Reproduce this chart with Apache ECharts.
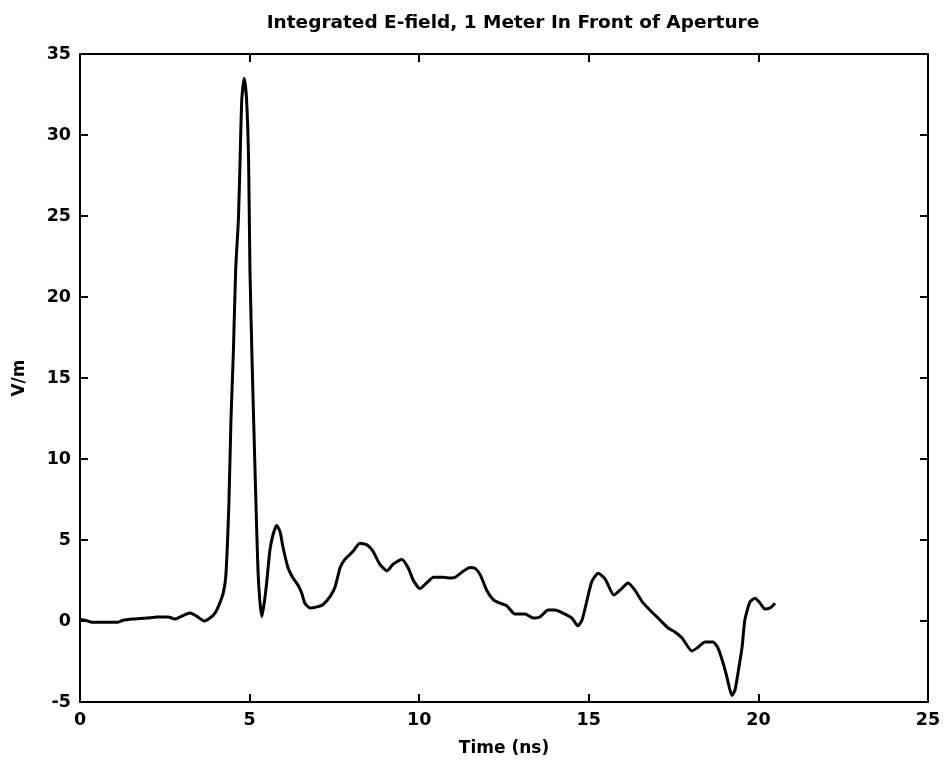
<!DOCTYPE html>
<html>
<head>
<meta charset="utf-8">
<script src="https://cdn.jsdelivr.net/npm/echarts@6/dist/echarts.min.js"></script>
<style>html,body{margin:0;padding:0;background:#fff}#c{width:946px;height:765px}</style>
</head>
<body>
<div id="c"></div>
<script>
const titleText = 'Integrated E-field, 1 Meter In Front of Aperture';
const xName = 'Time (ns)';
const yName = 'V/m';
const xTicks = [0, 5, 10, 15, 20, 25];
const yTicks = [-5, 0, 5, 10, 15, 20, 25, 30, 35];
const timeNs = [0,0.15,0.34,0.74,1.12,1.27,1.57,1.97,2.27,2.6,2.8,2.95,3.24,3.44,3.66,3.83,3.98,4.1,4.22,4.3,4.39,4.45,4.52,4.59,4.67,4.72,4.77,4.84,4.91,4.97,5.01,5.08,5.16,5.21,5.25,5.3,5.36,5.43,5.5,5.6,5.7,5.8,5.9,5.98,6.13,6.28,6.43,6.54,6.63,6.78,6.99,7.16,7.37,7.52,7.67,7.81,8.05,8.25,8.46,8.64,8.84,9.05,9.23,9.49,9.67,9.83,10.02,10.22,10.42,10.72,10.91,11.06,11.25,11.5,11.65,11.8,11.99,12.19,12.38,12.59,12.82,13.12,13.36,13.56,13.8,14.0,14.24,14.5,14.68,14.8,14.95,15.09,15.28,15.48,15.74,15.92,16.16,16.36,16.57,16.8,17.1,17.34,17.54,17.75,18.04,18.19,18.43,18.66,18.81,18.96,19.07,19.22,19.31,19.4,19.52,19.6,19.75,19.9,20.05,20.19,20.34,20.49];
const fieldVm = [0.1,0.05,-0.07,-0.08,-0.07,0.05,0.12,0.18,0.25,0.25,0.12,0.25,0.49,0.3,0.0,0.18,0.49,1.0,1.7,2.8,7.3,12.4,16.5,21.7,24.8,28.5,32.2,33.5,32.2,28.5,21.7,15.5,9.3,5.6,3.0,1.3,0.27,1.1,2.3,4.4,5.4,5.9,5.5,4.6,3.3,2.65,2.2,1.7,1.1,0.8,0.87,1.0,1.5,2.1,3.3,3.8,4.3,4.8,4.7,4.3,3.5,3.1,3.5,3.8,3.3,2.5,2.0,2.35,2.7,2.7,2.65,2.7,3.0,3.3,3.25,2.85,1.9,1.3,1.1,0.93,0.43,0.43,0.18,0.25,0.68,0.68,0.49,0.18,-0.3,0.06,1.3,2.45,2.95,2.6,1.6,1.9,2.35,1.9,1.2,0.68,0.06,-0.43,-0.68,-1.05,-1.85,-1.67,-1.3,-1.3,-1.67,-2.6,-3.45,-4.6,-4.26,-3.2,-1.6,0.06,1.17,1.4,1.1,0.74,0.8,1.1];

const FONT = 'DejaVu Sans';
const chart = echarts.init(document.getElementById('c'), null, {renderer: 'canvas'});
const lineStyle = {color: '#000', width: 2};
const tickIn = {show: true, inside: true, length: 8, lineStyle: {color: '#000', width: 2}};
const labelStyle = {color: '#000', fontFamily: FONT, fontWeight: 'bold', fontSize: 17.5};
function baseX(pos, showLabels) {
  return {
    type: 'value', position: pos, min: xTicks[0], max: xTicks[xTicks.length - 1], interval: 5,
    axisLine: {show: true, onZero: false, lineStyle},
    axisTick: tickIn, splitLine: {show: false},
    axisLabel: showLabels ? Object.assign({margin: 9}, labelStyle) : {show: false}
  };
}
function baseY(pos, showLabels) {
  return {
    type: 'value', position: pos, min: yTicks[0], max: yTicks[yTicks.length - 1], interval: 5,
    axisLine: {show: true, onZero: false, lineStyle},
    axisTick: tickIn, splitLine: {show: false},
    axisLabel: showLabels ? Object.assign({margin: 9}, labelStyle) : {show: false}
  };
}
const xb = baseX('bottom', true);
xb.name = xName; xb.nameLocation = 'middle'; xb.nameGap = 38;
xb.nameTextStyle = {color: '#000', fontFamily: FONT, fontWeight: 'bold', fontSize: 17};
const yl = baseY('left', true);
yl.name = yName; yl.nameLocation = 'middle'; yl.nameGap = 52;
yl.nameTextStyle = {color: '#000', fontFamily: FONT, fontWeight: 'bold', fontSize: 17};

chart.setOption({
  animation: false,
  backgroundColor: '#fff',
  title: {
    text: titleText, left: 508, top: 9, textAlign: 'center',
    textStyle: {color: '#000', fontFamily: FONT, fontWeight: 'bold', fontSize: 18.5}
  },
  grid: {left: 80, right: 18, top: 54, bottom: 63, containLabel: false},
  xAxis: [xb, baseX('top', false)],
  yAxis: [yl, baseY('right', false)],
  series: [{
    type: 'line', xAxisIndex: 0, yAxisIndex: 0,
    data: timeNs.map((t, i) => [t, fieldVm[i]]),
    showSymbol: false, smooth: 0.2,
    lineStyle: {color: '#000', width: 3}
  }]
});
</script>
</body>
</html>
